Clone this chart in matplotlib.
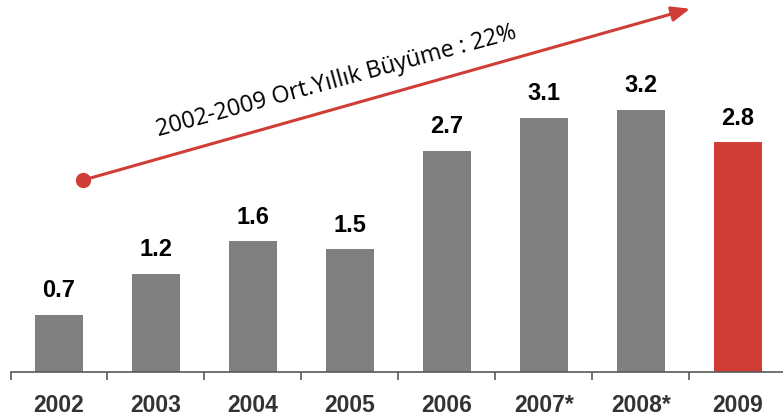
import matplotlib
matplotlib.use("Agg")
import matplotlib.pyplot as plt
import numpy as np

# data
years = ["2002", "2003", "2004", "2005", "2006", "2007*", "2008*", "2009"]
values = [0.7, 1.2, 1.6, 1.5, 2.7, 3.1, 3.2, 2.8]
growth_text = "2002-2009 Ort.Yıllık Büyüme : 22%"

gray = "#808080"
red = "#d03d36"
colors = [gray] * 7 + [red]

fig = plt.figure(figsize=(7.83, 4.20), dpi=100)
ax = fig.add_axes([10.5 / 783, 48 / 420, 776 / 783, 328 / 420])

x = np.arange(len(years))
ax.bar(x, values, width=0.5, color=colors)

for xi, v in zip(x, values):
    ax.text(xi, v + 0.15, f"{v:.1f}", ha="center", va="bottom",
            fontsize=17, fontweight="bold", family="Liberation Sans", color="black")

ax.set_xlim(-0.5, 7.5)
ax.set_ylim(0, 4)

# axis styling
for s in ["top", "right", "left"]:
    ax.spines[s].set_visible(False)
ax.spines["bottom"].set_color("#595959")
ax.spines["bottom"].set_linewidth(1.2)
ax.set_yticks([])
ax.set_xticks(np.arange(len(years) + 1) - 0.5)
ax.set_xticklabels([])
ax.set_xticks(x, minor=True)
ax.set_xticklabels(years, minor=True, fontsize=16.5, fontweight="bold",
                   family="Liberation Sans", color="#333333")
ax.tick_params(axis="x", which="major", length=5.5, width=1.2, color="#595959")
ax.tick_params(axis="x", which="minor", length=0, pad=15.5)

# growth arrow
ax.annotate("", xy=(6.505, 4.43), xytext=(0.247, 2.34),
            arrowprops=dict(arrowstyle="-|>,head_length=1.1,head_width=0.45",
                            color=red, lw=2.2, shrinkA=0, shrinkB=0),
            annotation_clip=False)
ax.plot([0.247], [2.34], "o", color=red, markersize=10, clip_on=False)
ax.text(2.86, 3.55, growth_text, rotation=15.3, rotation_mode="anchor",
        ha="center", va="center", fontsize=16.8, family="Open Sans", color="black")

fig.savefig("out.png", dpi=100)
